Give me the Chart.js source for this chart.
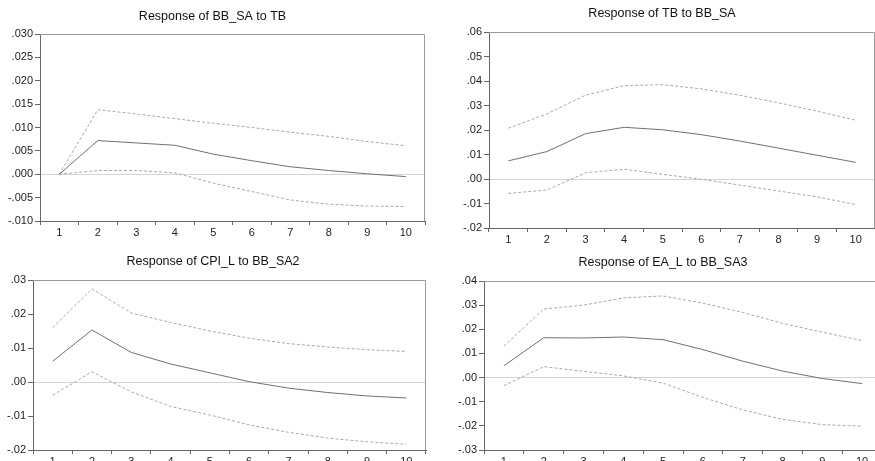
<!DOCTYPE html>
<html>
<head>
<meta charset="utf-8">
<script src="https://cdn.jsdelivr.net/npm/chart.js@4"></script>
<style>
  html, body { margin: 0; padding: 0; background: #fff; }
  body { width: 875px; height: 461px; overflow: hidden; position: relative; }
  canvas { position: absolute; }
</style>
</head>
<body>
<canvas id="c1" width="465" height="241" style="left:0px;top:0px"></canvas>
<canvas id="c2" width="466" height="248" style="left:449px;top:0px"></canvas>
<canvas id="c3" width="459" height="225" style="left:0px;top:245px"></canvas>
<canvas id="c4" width="478" height="225" style="left:444px;top:245px"></canvas>
<script>
// periods after the shock
const steps = ['1', '2', '3', '4', '5', '6', '7', '8', '9', '10'];

// Response of BB_SA to TB
const bbTbMid = [0.0000, 0.0072, 0.0067, 0.0062, 0.0043, 0.0029, 0.0016, 0.0008, 0.0001, -0.0005];
const bbTbUp  = [0.0000, 0.0138, 0.0129, 0.0119, 0.0109, 0.0100, 0.0090, 0.0081, 0.0070, 0.0061];
const bbTbLo  = [0.0000, 0.0008, 0.0008, 0.0003, -0.0019, -0.0037, -0.0055, -0.0064, -0.0068, -0.0069];

// Response of TB to BB_SA
const tbBbMid = [0.0074, 0.0112, 0.0185, 0.0211, 0.0201, 0.0181, 0.0155, 0.0126, 0.0097, 0.0068];
const tbBbUp  = [0.0207, 0.0266, 0.0342, 0.0381, 0.0385, 0.0368, 0.0342, 0.0311, 0.0277, 0.0240];
const tbBbLo  = [-0.0059, -0.0045, 0.0025, 0.0040, 0.0019, -0.0001, -0.0025, -0.0049, -0.0073, -0.0104];

// Response of CPI_L to BB_SA2
const cpiMid = [0.0061, 0.0153, 0.0087, 0.0053, 0.0027, 0.0001, -0.0018, -0.0031, -0.0041, -0.0047];
const cpiUp  = [0.0160, 0.0274, 0.0203, 0.0175, 0.0150, 0.0129, 0.0113, 0.0103, 0.0095, 0.0090];
const cpiLo  = [-0.0039, 0.0030, -0.0029, -0.0072, -0.0097, -0.0126, -0.0148, -0.0165, -0.0176, -0.0183];

// Response of EA_L to BB_SA3
const eaMid = [0.0049, 0.0165, 0.0164, 0.0168, 0.0157, 0.0116, 0.0068, 0.0027, -0.0004, -0.0025];
const eaUp  = [0.0130, 0.0284, 0.0300, 0.0330, 0.0338, 0.0308, 0.0270, 0.0225, 0.0188, 0.0153];
const eaLo  = [-0.0034, 0.0045, 0.0026, 0.0007, -0.0023, -0.0082, -0.0134, -0.0173, -0.0195, -0.0201];

const FONT = "'Liberation Sans', Arial, sans-serif";

// box around the plot area, like the eviews frame
const framePlugin = {
    id: 'frame',
    afterDraw(chart) {
        const a = chart.chartArea;
        const ctx = chart.ctx;
        ctx.save();
        ctx.strokeStyle = '#9a9a9a';
        ctx.lineWidth = 1;
        ctx.beginPath();
        ctx.moveTo(a.left, a.top + 0.5);
        ctx.lineTo(a.right - 0.5, a.top + 0.5);
        ctx.lineTo(a.right - 0.5, a.bottom);
        ctx.stroke();
        ctx.restore();
    }
};

function makePanel(id, title, mid, up, lo, yMin, yMax, yStep, decimals, yWidth, titlePad) {
    const band = (data) => ({
        data: data,
        borderColor: '#a9a9a9',
        borderWidth: 1,
        borderDash: [3, 2],
        pointRadius: 0,
        tension: 0
    });

    new Chart(document.getElementById(id), {
        type: 'line',
        data: {
            labels: steps,
            datasets: [
                { data: mid, borderColor: '#707070', borderWidth: 1, pointRadius: 0, tension: 0 },
                band(up),
                band(lo)
            ]
        },
        options: {
            responsive: false,
            animation: false,
            layout: { padding: { left: 0, right: yWidth, top: 0, bottom: 0 } },
            plugins: {
                legend: { display: false },
                tooltip: { enabled: false },
                title: {
                    display: true,
                    text: title,
                    color: '#111',
                    font: { family: FONT, size: 12.5, weight: 'normal' },
                    padding: titlePad
                }
            },
            scales: {
                x: {
                    type: 'category',
                    offset: true,
                    grid: {
                        offset: true,
                        drawOnChartArea: false,
                        color: '#666',
                        tickLength: 4
                    },
                    border: { color: '#666' },
                    ticks: {
                        color: '#222',
                        padding: 1,
                        maxRotation: 0,
                        font: { family: FONT, size: 11 }
                    },
                    afterFit(scale) { scale.height = 20; }
                },
                y: {
                    min: yMin,
                    max: yMax,
                    grid: {
                        color: (c) => (c.tick && Math.abs(c.tick.value) < 1e-9 ? '#d4d4d4' : 'rgba(0,0,0,0)'),
                        tickColor: '#666',
                        tickLength: 5
                    },
                    border: { color: '#666' },
                    ticks: {
                        stepSize: yStep,
                        color: '#222',
                        padding: 2,
                        font: { family: FONT, size: 11 },
                        callback: function(v) {
                            const s = Number(v).toFixed(decimals);
                            return s.replace(/^(-?)0\./, '$1.');
                        }
                    },
                    afterFit(scale) { scale.width = yWidth; }
                }
            }
        },
        plugins: [framePlugin]
    });
}

makePanel('c1', 'Response of BB_SA to TB', bbTbMid, bbTbUp, bbTbLo,
    -0.01, 0.03, 0.005, 3, 40, { top: 9, bottom: 10 });
makePanel('c2', 'Response of TB to BB_SA', tbBbMid, tbBbUp, tbBbLo,
    -0.02, 0.06, 0.01, 2, 40, { top: 6, bottom: 11 });
makePanel('c3', 'Response of CPI_L to BB_SA2', cpiMid, cpiUp, cpiLo,
    -0.02, 0.03, 0.01, 2, 33, { top: 9, bottom: 11 });
makePanel('c4', 'Response of EA_L to BB_SA3', eaMid, eaUp, eaLo,
    -0.03, 0.04, 0.01, 2, 40, { top: 10, bottom: 11 });
</script>
</body>
</html>
